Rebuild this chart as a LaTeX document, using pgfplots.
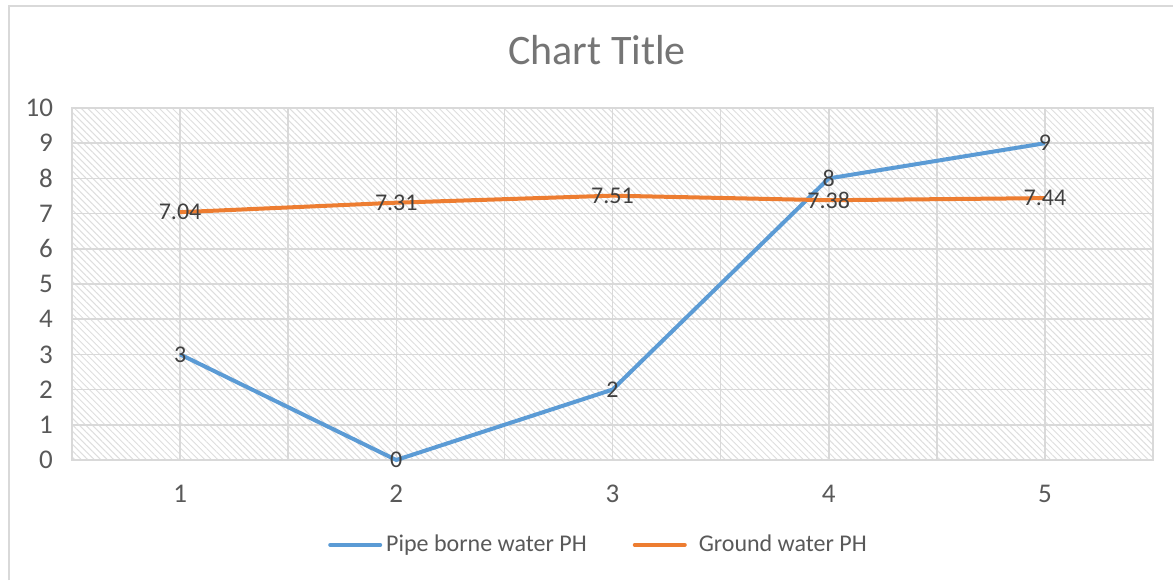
\documentclass[border=0pt]{standalone}
\usepackage{pgfplots}
\pgfplotsset{compat=1.18}
\usetikzlibrary{patterns.meta}
\usepackage{fontspec}
\setmainfont{Carlito}
\definecolor{gridc}{HTML}{D9D9D9}
\definecolor{hatchc}{HTML}{DEDEDE}
\definecolor{tickc}{HTML}{595959}
\definecolor{labc}{HTML}{404040}
\definecolor{titlec}{HTML}{757575}
\definecolor{blueS}{HTML}{5B9BD5}
\definecolor{orangeS}{HTML}{ED7D31}
\begin{document}
\begin{tikzpicture}
\path[use as bounding box] (0,0) rectangle (586.5pt,-290pt);
\draw[gridc, line width=1pt] (4.25pt,-290pt) -- (4.25pt,-2.75pt) -- (586.5pt,-2.75pt);
\node[font=\fontsize{21}{25}\selectfont, text=titlec] at (298.5pt,-25pt) {Chart Title};
\begin{axis}[
  at={(36pt,-230pt)}, anchor=south west,
  scale only axis, width=540.5pt, height=176pt,
  xmin=0.5, xmax=5.5, ymin=0, ymax=10,
  xtick={1,2,3,4,5}, ytick={0,1,...,10},
  minor xtick={0.5,1.5,2.5,3.5,4.5,5.5},
  grid=both,
  major grid style={gridc, line width=0.8pt},
  minor grid style={gridc, line width=0.8pt},
  axis line style={gridc, line width=0.8pt},
  major tick length=0pt, minor tick length=0pt,
  tick label style={text=tickc, font=\fontsize{13.5}{15}\selectfont},
  /pgf/number format/assume math mode=true,
  xticklabel style={yshift=-9pt},
  yticklabel style={xshift=-6pt},
  axis background/.style={pattern={Lines[angle=-45,distance=2.3pt,line width=0.5pt]}, pattern color=hatchc},
  clip=false,
  nodes near coords,
  every node near coord/.append style={anchor=center, text=labc, font=\fontsize{12}{14}\selectfont},
  point meta=explicit symbolic,
  legend columns=2,
  legend style={at={(axis description cs:0.488,-0.241)}, anchor=center, draw=none, fill=none,
    font=\fontsize{12}{14}\selectfont, text=tickc,
    /tikz/every even column/.append style={column sep=21pt},
    /tikz/every odd column/.append style={column sep=0pt}},
  legend image code/.code={\draw[#1, line width=2pt, line cap=round] (0pt,0pt) -- (25pt,0pt);},
]
\addplot[blueS, line width=2pt, no markers] coordinates {(1,3)[3] (2,0)[0] (3,2)[2] (4,8)[8] (5,9)[9]};
\addlegendentry{Pipe borne water PH}
\addplot[orangeS, line width=2pt, no markers] coordinates {(1,7.04)[7.04] (2,7.31)[7.31] (3,7.51)[7.51] (4,7.38)[7.38] (5,7.44)[7.44]};
\addlegendentry{\hspace{4pt}Ground water PH}
\end{axis}
\end{tikzpicture}
\end{document}
